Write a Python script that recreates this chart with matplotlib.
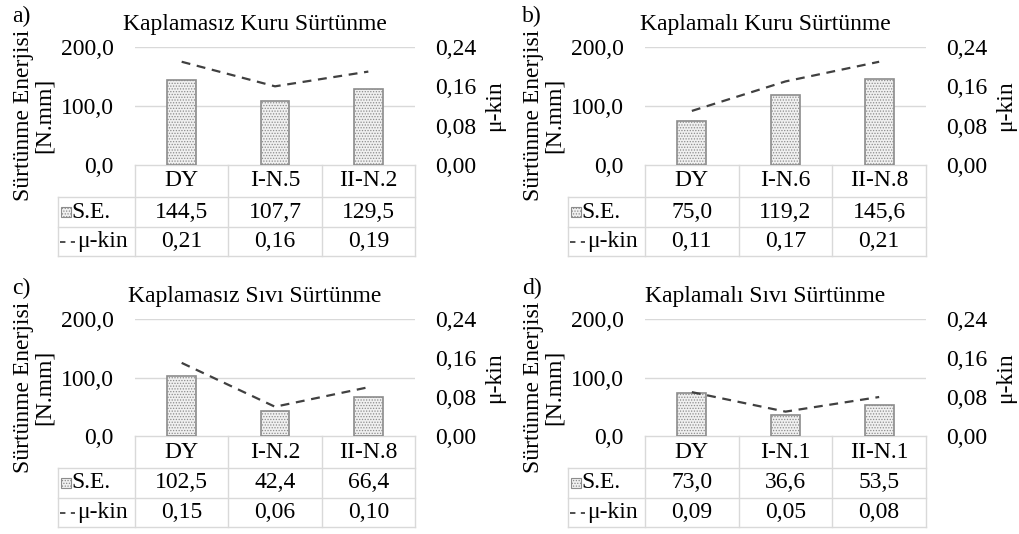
import numpy as np
import matplotlib
matplotlib.use("Agg")
import matplotlib.pyplot as plt
from matplotlib.patches import Rectangle
from matplotlib.lines import Line2D
from matplotlib.ticker import FuncFormatter

plt.rcParams['font.family'] = ['Liberation Serif', 'DejaVu Serif']
plt.rcParams['hatch.color'] = '#c0c0c0'
plt.rcParams['hatch.linewidth'] = 0.6

# data for the four panels
letters = ["a)", "b)", "c)", "d)"]
titles = ["Kaplamasız Kuru Sürtünme", "Kaplamalı Kuru Sürtünme",
          "Kaplamasız Sıvı Sürtünme", "Kaplamalı Sıvı Sürtünme"]
cats_a = ["DY", "I-N.5", "II-N.2"]
cats_b = ["DY", "I-N.6", "II-N.8"]
cats_c = ["DY", "I-N.2", "II-N.8"]
cats_d = ["DY", "I-N.1", "II-N.1"]
se_a = [144.5, 107.7, 129.5]
se_b = [75.0, 119.2, 145.6]
se_c = [102.5, 42.4, 66.4]
se_d = [73.0, 36.6, 53.5]
mu_a = [0.21, 0.16, 0.19]
mu_b = [0.11, 0.17, 0.21]
mu_c = [0.15, 0.06, 0.10]
mu_d = [0.09, 0.05, 0.08]
left_ticks = [0, 100, 200]
right_ticks = [0, 0.08, 0.16, 0.24]

W, H = 1019, 534
fig = plt.figure(figsize=(W / 100, H / 100), dpi=100)

# panel boxes in pixels: left, top, right, bottom of the plot area
boxes = [(135, 47, 415, 165), (645, 47, 926, 165),
         (135, 319, 415, 436), (645, 319, 926, 436)]
cats_all = [cats_a, cats_b, cats_c, cats_d]
se_all = [se_a, se_b, se_c, se_d]
mu_all = [mu_a, mu_b, mu_c, mu_d]

FS = 17
grid_c = '#d9d9d9'
bar_face = '#f0f0f0'
bar_edge = '#8c8c8c'


def comma(fmt):
    return FuncFormatter(lambda v, p: fmt.format(v).replace('.', ','))


for i in range(4):
    l, t, r, b = boxes[i]
    ax = fig.add_axes([l / W, 1 - b / H, (r - l) / W, (b - t) / H])
    ah = b - t
    aw = r - l
    x = np.arange(3)
    ax.bar(x, se_all[i], width=0.31, facecolor=bar_face, edgecolor=bar_edge,
           hatch='......', linewidth=1.2, zorder=3)
    ax.set_xlim(-0.5, 2.5)
    ax.set_ylim(0, 200)
    ax.set_yticks(left_ticks)
    ax.yaxis.set_major_formatter(comma("{:.1f}"))
    ax.set_xticks([])
    ax.tick_params(axis='y', length=0, pad=15.5, labelsize=FS)
    for v in left_ticks[1:]:
        ax.axhline(v, color=grid_c, lw=1, zorder=1)
    for s in ax.spines.values():
        s.set_visible(False)

    ax2 = ax.twinx()
    ax2.plot(x, mu_all[i], color='#404040', lw=1.6, dashes=(4, 3), zorder=4)
    ax2.set_ylim(0, 0.24)
    ax2.set_yticks(right_ticks)
    ax2.yaxis.set_major_formatter(comma("{:.2f}"))
    ax2.tick_params(axis='y', length=0, pad=14.5, labelsize=FS)
    for s in ax2.spines.values():
        s.set_visible(False)
    ax2.set_ylabel("μ-kin", fontsize=FS, rotation=90)
    ax2.yaxis.set_label_coords((r + 80 - l) / aw, 0.5)
    ax2.yaxis.label.set_va('center')
    ax2.yaxis.label.set_ha('center')

    # table geometry in axes coords
    rows = [0, -32 / ah, -62 / ah, -91 / ah]
    xl = -77 / aw
    bounds = [0, 1 / 3, 2 / 3, 1]
    lk = dict(color=grid_c, lw=1, transform=ax.transAxes, clip_on=False)
    ax.add_line(Line2D([0, 1], [rows[0], rows[0]], **lk))
    for yy in rows[1:]:
        ax.add_line(Line2D([xl, 1], [yy, yy], **lk))
    for xx in bounds:
        ax.add_line(Line2D([xx, xx], [rows[0], rows[3]], **lk))
    ax.add_line(Line2D([xl, xl], [rows[1], rows[3]], **lk))

    for j in range(3):
        xc = (j + 0.5) / 3
        ax.text(xc, (rows[0] + rows[1]) / 2, cats_all[i][j], transform=ax.transAxes,
                ha='center', va='center', fontsize=FS)
        ax.text(xc, (rows[1] + rows[2]) / 2, f"{se_all[i][j]:.1f}".replace('.', ','),
                transform=ax.transAxes, ha='center', va='center', fontsize=FS)
        ax.text(xc, (rows[2] + rows[3]) / 2, f"{mu_all[i][j]:.2f}".replace('.', ','),
                transform=ax.transAxes, ha='center', va='center', fontsize=FS)

    # legend keys in the table
    ym1 = (rows[1] + rows[2]) / 2
    ym2 = (rows[2] + rows[3]) / 2
    ax.add_patch(Rectangle((xl + 3 / aw, ym1 - 5 / ah), 10 / aw, 10 / ah,
                           transform=ax.transAxes, clip_on=False,
                           facecolor=bar_face, edgecolor=bar_edge, hatch='......', lw=0.8))
    ax.text(xl + 13 / aw, ym1, "S.E.", transform=ax.transAxes, ha='left',
            va='center', fontsize=FS)
    ax.add_line(Line2D([xl + 2 / aw, xl + 17 / aw], [ym2, ym2], color='#404040', lw=1.3,
                       dashes=(3, 3), transform=ax.transAxes, clip_on=False))
    ax.text(xl + 19 / aw, ym2, "μ-kin", transform=ax.transAxes, ha='left',
            va='center', fontsize=FS)

    # y label placed by hand
    fig.text((l - 101) / W, 1 - (t + 68) / H, "Sürtünme Enerjisi\n[N.mm]", rotation=90,
             ha='center', va='center', fontsize=FS, linespacing=1.0)

    # title and letter
    fig.text((l + 120) / W, 1 - (t - 17) / H, titles[i], ha='center', va='baseline',
             fontsize=FS)
    fig.text((l - 123) / W, 1 - (t - 25) / H, letters[i], ha='left', va='baseline',
             fontsize=FS)

fig.savefig("out.png", dpi=100)
